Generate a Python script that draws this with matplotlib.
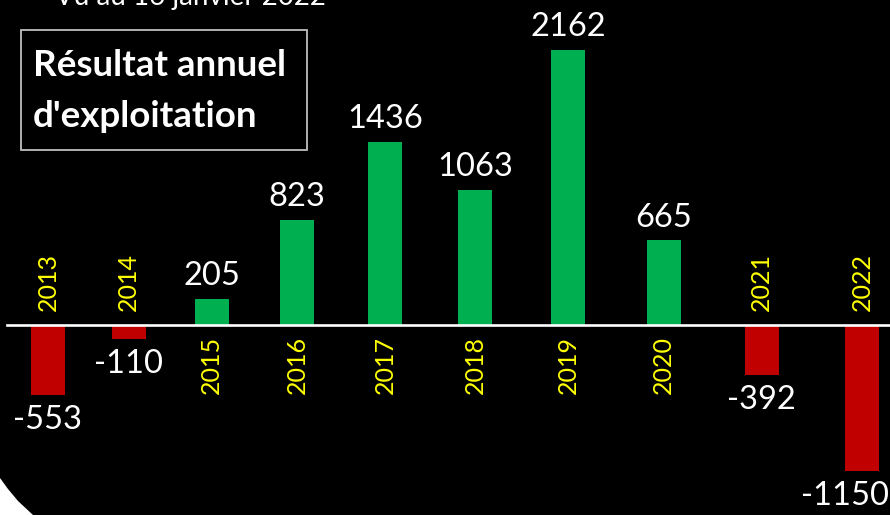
import numpy as np
import matplotlib
matplotlib.use("Agg")
import matplotlib.pyplot as plt
from matplotlib.patches import Rectangle, Polygon

# ---- data ----
years = ["2013", "2014", "2015", "2016", "2017", "2018", "2019", "2020", "2021", "2022"]
values = [-553, -110, 205, 823, 1436, 1063, 2162, 665, -392, -1150]
title_lines = ["Résultat annuel", "d'exploitation"]
subtitle = "Vu au 16 janvier 2022"

# ---- style ----
GREEN = "#00B050"
RED = "#C00000"
YELLOW = "#FFFF00"
FONT = ["Lato", "DejaVu Sans"]
plt.rcParams["font.family"] = FONT

W, H = 890, 515
fig = plt.figure(figsize=(W / 100, H / 100), dpi=100, facecolor="black")
ax = fig.add_axes([0, 0, 1, 1])
ax.set_facecolor("black")
ax.axis("off")

# slightly widening category spacing (as in the original picture)
Q = 0.01563
PX = 79.3  # pixels per transformed unit
FIRST = 48  # pixel of first category centre


def fwd(x):
    x = np.asarray(x, dtype=float)
    return x + Q * x * x


def inv(u):
    u = np.asarray(u, dtype=float)
    return (-1 + np.sqrt(np.maximum(1 + 4 * Q * u, 0))) / (2 * Q)


ax.set_xscale("function", functions=(fwd, inv))
ax.set_xlim(float(inv(-FIRST / PX)), float(inv((W - FIRST) / PX)))
ax.set_ylim(-1494, 2555)

idx = np.arange(len(years))
hw = 17 / PX
lefts = inv(fwd(idx) - hw)
rights = inv(fwd(idx) + hw)
colors = [GREEN if v >= 0 else RED for v in values]
ax.bar(lefts, np.array(values), width=rights - lefts, align="edge",
       color=colors, edgecolor="none", zorder=2)

# zero line
ax.axhline(0, xmin=7 / W, xmax=1, color="white", lw=1.9, zorder=3)

val_texts = []
for i, (y, v) in enumerate(zip(years, values)):
    if v >= 0:
        t = ax.annotate(f"{v}", xy=(i, v), xytext=(0, 10), textcoords="offset points",
                        ha="center", va="baseline", color="white", fontsize=23.5)
        ax.annotate(y, xy=(i, 0), xytext=(0, -8), textcoords="offset points",
                    ha="center", va="top", rotation=90, color=YELLOW, fontsize=18)
    else:
        t = ax.annotate(f"{v}", xy=(i, v), xytext=(0, -7), textcoords="offset points",
                        ha="center", va="top", color="white", fontsize=23.5)
        ax.annotate(y, xy=(i, 0), xytext=(0, 10), textcoords="offset points",
                    ha="center", va="bottom", rotation=90, color=YELLOW, fontsize=18)
    val_texts.append(t)

# keep value labels inside the picture
fig.canvas.draw()
r = fig.canvas.get_renderer()
for t in val_texts:
    bb = t.get_window_extent(r)
    if bb.x1 > W - 1:
        dx = (bb.x1 - (W - 1)) * 72 / 100
        ox, oy = t.xyann
        t.xyann = (ox - dx, oy)

# title box
fig.patches.append(Rectangle((21 / W, 1 - 150 / H), (307 - 21) / W, (150 - 30) / H,
                             transform=fig.transFigure, fill=False,
                             edgecolor="#BFBFBF", lw=1.3))
fig.text(33 / W, 1 - 76 / H, title_lines[0], color="white", fontsize=26.5,
         fontweight="bold", va="baseline", ha="left")
fig.text(33 / W, 1 - 127 / H, title_lines[1], color="white", fontsize=26.5,
         fontweight="bold", va="baseline", ha="left")

# subtitle cut at the top (as in the original)
fig.text(55 / W, 1 - 5 / H, subtitle, color="white", fontsize=20,
         va="baseline", ha="left")

# white rounded corner bottom-left
fig.patches.append(Polygon([(0, 1 - 478 / H), (8 / W, 1 - 489 / H), (18 / W, 1 - 501 / H),
                            (33 / W, 0), (0, 0)], closed=True,
                           transform=fig.transFigure, facecolor="white", edgecolor="none"))

fig.savefig("out.png", dpi=100, facecolor="black")
